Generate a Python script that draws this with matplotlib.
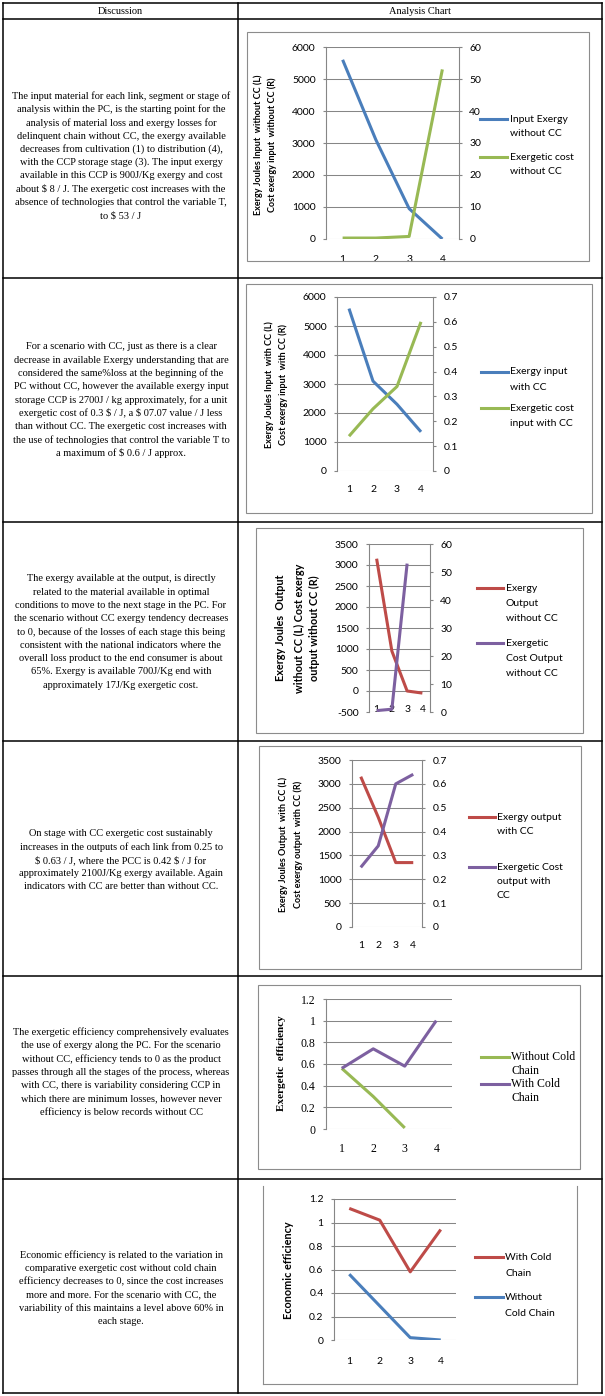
import numpy as np
import matplotlib
matplotlib.use("Agg")
from matplotlib import pyplot as plt
from matplotlib.lines import Line2D
from matplotlib.patches import Rectangle

###############################################################################
# data
stages = [1, 2, 3, 4]

exergy_in_no_cc = [5600, 3100, 950, 0]
cost_in_no_cc = [0.3, 0.3, 0.8, 53]

exergy_in_cc = [5600, 3100, 2300, 1350]
cost_in_cc = [0.14, 0.25, 0.34, 0.60]

exergy_out_no_cc = [3150, 950, 0, -50]
cost_out_no_cc = [0.5, 1, 53]          # no value for stage 4

exergy_out_cc = [3150, 2300, 1350, 1350]
cost_out_cc = [0.25, 0.34, 0.60, 0.64]

ex_eff_no_cc = [0.56, 0.30, 0.01]      # no value for stage 4
ex_eff_cc = [0.56, 0.74, 0.58, 1.0]

eco_eff_cc = [1.12, 1.02, 0.58, 0.94]
eco_eff_no_cc = [0.56, 0.29, 0.02, 0.0]

headers = ["Discussion", "Analysis Chart"]

discussion = [
    ["The input material for each link, segment or stage of",
     "analysis within the PC, is the starting point for the",
     "analysis of material loss and exergy losses for",
     "delinquent chain without CC, the exergy available",
     "decreases from cultivation (1) to distribution (4),",
     "with the CCP storage stage (3). The input exergy",
     "available in this CCP is 900J/Kg exergy and cost",
     "about $ 8 / J. The exergetic cost increases with the",
     "absence of technologies that control the variable T,",
     "to $ 53 / J"],
    ["For a scenario with CC, just as there is a clear",
     "decrease in available Exergy understanding that are",
     "considered the same%loss at the beginning of the",
     "PC without CC, however the available exergy input",
     "storage CCP is 2700J / kg approximately, for a unit",
     "exergetic cost of 0.3 $ / J, a $ 07.07 value / J less",
     "than without CC. The exergetic cost increases with",
     "the use of technologies that control the variable T to",
     "a maximum of $ 0.6 / J approx."],
    ["The exergy available at the output, is directly",
     "related to the material available in optimal",
     "conditions to move to the next stage in the PC. For",
     "the scenario without CC exergy tendency decreases",
     "to 0, because of the losses of each stage this being",
     "consistent with the national indicators where the",
     "overall loss product to the end consumer is about",
     "65%. Exergy is available 700J/Kg end with",
     "approximately 17J/Kg exergetic cost."],
    ["On stage with CC exergetic cost sustainably",
     "increases in the outputs of each link from 0.25 to",
     "$ 0.63 / J, where the PCC is 0.42 $ / J for",
     "approximately 2100J/Kg exergy available. Again",
     "indicators with CC are better than without CC."],
    ["The exergetic efficiency comprehensively evaluates",
     "the use of exergy along the PC. For the scenario",
     "without CC, efficiency tends to 0 as the product",
     "passes through all the stages of the process, whereas",
     "with CC, there is variability considering CCP in",
     "which there are minimum losses, however never",
     "efficiency is below records without CC"],
    ["Economic efficiency is related to the variation in",
     "comparative exergetic cost without cold chain",
     "efficiency decreases to 0, since the cost increases",
     "more and more. For the scenario with CC, the",
     "variability of this maintains a level above 60% in",
     "each stage."],
]

BLUE = '#4a7ebb'
RED = '#be4b48'
GREEN = '#98b954'
PURPLE = '#7d60a0'
GRID = '#868686'
SANS = 'Lato'
SERIF = 'Liberation Serif'

###############################################################################
W, H = 605, 1396
fig = plt.figure(figsize=(W / 100, H / 100), dpi=100)


def fx(x):
    return x / W


def fy(y):
    return 1 - y / H


def add_ax(l, t, r, b):
    return fig.add_axes([fx(l), fy(b), (r - l) / W, (b - t) / H])


def hline(y, x0, x1, **kw):
    fig.add_artist(Line2D([fx(x0), fx(x1)], [fy(y), fy(y)], **kw))


def vline(x, y0, y1, **kw):
    fig.add_artist(Line2D([fx(x), fx(x)], [fy(y0), fy(y1)], **kw))


###############################################################################
# table grid
for y in [3, 19, 278, 522, 741, 976, 1179, 1393]:
    hline(y, 3, 602, color='black', lw=1.1)
for x in [3, 238.5, 602]:
    vline(x, 3, 1393, color='black', lw=1.1)

fig.text(fx(120), fy(11), headers[0], ha='center', va='center',
         family=SERIF, fontsize=7.5)
fig.text(fx(420), fy(11), headers[1], ha='center', va='center',
         family=SERIF, fontsize=7.5)

row_centers = [156, 400, 632, 860, 1072, 1288]
for lines, cy in zip(discussion, row_centers):
    n = len(lines)
    for i, s in enumerate(lines):
        y = cy + (i - (n - 1) / 2) * 13.3
        fig.text(fx(121), fy(y), s, ha='center', va='center',
                 family=SERIF, fontsize=7.5, parse_math=False)


###############################################################################
def frame(l, t, r, b, top=True):
    rect = Rectangle((fx(l), fy(b)), (r - l) / W, (b - t) / H,
                     transform=fig.transFigure, fill=False,
                     ec='#8c8c8c', lw=0.8)
    if top:
        fig.add_artist(rect)
    else:
        vline(l, t, b, color='#8c8c8c', lw=0.8)
        vline(r, t, b, color='#8c8c8c', lw=0.8)
        hline(b, l, r, color='#8c8c8c', lw=0.8)
    return rect


def style(ax, ylim, ticks, font, fs, xpad=10, right=None):
    ax.set_xlim(0.5, 4.5)
    ax.set_ylim(*ylim)
    ax.set_xticks(stages)
    ax.set_xticklabels([str(s) for s in stages], family=font, fontsize=fs)
    ax.set_yticks(ticks)
    ax.set_yticklabels(['%g' % round(v, 2) for v in ticks], family=font,
                       fontsize=fs)
    ax.tick_params(axis='x', length=0, pad=xpad)
    ax.tick_params(axis='y', length=2.5, color=GRID, pad=5)
    ax.grid(axis='y', color=GRID, lw=0.75)
    ax.set_axisbelow(True)
    for s in ['top', 'bottom', 'right']:
        ax.spines[s].set_visible(False)
    ax.spines['left'].set_color(GRID)
    ax.spines['left'].set_linewidth(0.8)
    ax.patch.set_alpha(0)
    if right is not None:
        ax2 = ax.twinx()
        rlim, rticks = right
        ax2.set_ylim(*rlim)
        ax2.set_yticks(rticks)
        ax2.set_yticklabels(['%g' % round(v, 2) for v in rticks],
                            family=font, fontsize=fs)
        ax2.tick_params(axis='y', length=2.5, color=GRID, pad=5)
        for s in ['top', 'bottom', 'left']:
            ax2.spines[s].set_visible(False)
        ax2.spines['right'].set_color(GRID)
        ax2.spines['right'].set_linewidth(0.8)
        return ax2
    return None


def ylabels(items, cy, font, fs):
    for x, s in items:
        fig.text(fx(x), fy(cy), s, rotation=90, ha='center', va='center',
                 family=font, fontsize=fs, fontweight='bold')


def legend(x0, x1, xt, entries, step, font, fs):
    for y, color, lines in entries:
        hline(y, x0, x1, color=color, lw=2.2)
        for i, s in enumerate(lines):
            fig.text(fx(xt), fy(y + i * step), s, ha='left', va='center',
                     family=font, fontsize=fs)


LW = dict(lw=2.2, solid_joinstyle='round', solid_capstyle='butt')

###############################################################################
# 1 input exergy without CC
rect = frame(247, 32, 589, 261)
ax = add_ax(326, 47, 459, 239)
ax2 = style(ax, (0, 6000), np.arange(0, 6001, 1000), SANS, 7.5, xpad=11.5,
            right=((0, 60), np.arange(0, 61, 10)))
ax.plot(stages, exergy_in_no_cc, color=BLUE, **LW)
ax2.plot(stages, cost_in_no_cc, color=GREEN, **LW)
for lbl in ax.get_xticklabels():
    lbl.set_clip_on(True)
    lbl.set_clip_path(rect)
ylabels([(258, "Exergy Joules Input  without CC (L)"),
         (272, "Cost exergy input  without CC (R)")], 145, SANS, 6.5)
legend(480, 507, 510, [(119, BLUE, ["Input Exergy", "without CC"]),
                       (157, GREEN, ["Exergetic cost", "without CC"])],
       15, SANS, 7.5)

###############################################################################
# 2 input exergy with CC
frame(246, 284, 592, 513)
ax = add_ax(337, 297, 433, 471)
ax2 = style(ax, (0, 6000), np.arange(0, 6001, 1000), SANS, 7.5,
            right=((0, 0.7), np.linspace(0, 0.7, 8)))
ax.plot(stages, exergy_in_cc, color=BLUE, **LW)
ax2.plot(stages, cost_in_cc, color=GREEN, **LW)
ylabels([(269, "Exergy Joules Input  with CC (L)"),
         (283, "Cost exergy input  with CC (R)")], 385, SANS, 6.5)
legend(481, 508, 510, [(372, BLUE, ["Exergy input", "with CC"]),
                       (408, GREEN, ["Exergetic cost", "input with CC"])],
       15, SANS, 7.5)

###############################################################################
# 3 output exergy without CC
frame(256, 528, 583, 733)
ax = add_ax(369, 544, 430, 712)
ax2 = style(ax, (-500, 3500), np.arange(-500, 3501, 500), SANS, 7.5,
            xpad=-5, right=((0, 60), np.arange(0, 61, 10)))
ax.plot(stages, exergy_out_no_cc, color=RED, **LW)
ax2.plot(stages[:len(cost_out_no_cc)], cost_out_no_cc, color=PURPLE, **LW)
ylabels([(281, "Exergy Joules  Output"),
         (299, "without CC (L) Cost exergy"),
         (314, "output without CC (R)")], 628, SANS, 7.8)
legend(477, 503, 506, [(588, RED, ["Exergy", "Output", "without CC"]),
                       (643, PURPLE, ["Exergetic", "Cost Output",
                                      "without CC"])],
       15.5, SANS, 7.5)

###############################################################################
# 4 output exergy with CC
frame(259, 746, 581, 969)
ax = add_ax(352, 760, 422, 927)
ax2 = style(ax, (0, 3500), np.arange(0, 3501, 500), SANS, 7.5,
            right=((0, 0.7), np.linspace(0, 0.7, 8)))
ax.plot(stages, exergy_out_cc, color=RED, **LW)
ax2.plot(stages, cost_out_cc, color=PURPLE, **LW)
ylabels([(283, "Exergy Joules Output  with CC (L)"),
         (298, "Cost exergy output  with CC (R)")], 844, SANS, 6.5)
legend(469, 495, 497, [(817, RED, ["Exergy output", "with CC"]),
                       (867, PURPLE, ["Exergetic Cost", "output with", "CC"])],
       14.5, SANS, 7.5)

###############################################################################
# 5 exergetic efficiency
frame(258, 985, 580, 1169)
ax = add_ax(326, 999, 452, 1129)
style(ax, (0, 1.2), np.linspace(0, 1.2, 7), SERIF, 8.5)
ax.plot(stages[:len(ex_eff_no_cc)], ex_eff_no_cc, color=GREEN, **LW)
ax.plot(stages, ex_eff_cc, color=PURPLE, **LW)
ylabels([(282, "Exergetic  efficiency")], 1063, SERIF, 8)
legend(481, 509, 511, [(1057, GREEN, ["Without Cold", "Chain"]),
                       (1084, PURPLE, ["With Cold", "Chain"])],
       14, SERIF, 8.5)

###############################################################################
# 6 economic efficiency
frame(263, 1186, 577, 1384, top=False)
ax = add_ax(334, 1199, 456, 1340)
style(ax, (0, 1.2), np.linspace(0, 1.2, 7), SANS, 7.5, xpad=12)
ax.plot(stages, eco_eff_cc, color=RED, **LW)
ax.plot(stages, eco_eff_no_cc, color=BLUE, **LW)
ylabels([(288, "Economic efficiency")], 1270, SANS, 7.8)
legend(475, 503, 505, [(1257, RED, ["With Cold", "Chain"]),
                       (1297, BLUE, ["Without", "Cold Chain"])],
       16, SANS, 7.5)

fig.savefig('out.png', dpi=100)
